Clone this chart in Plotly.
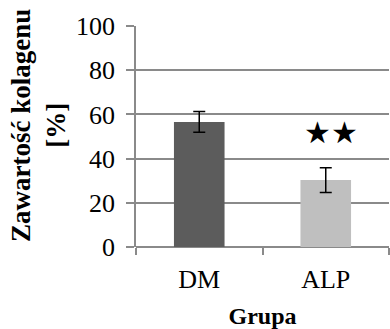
import plotly.graph_objects as go

# Collagen content by group (mean ± SD)
groups = ["DM", "ALP"]
means = [56.6, 30.3]
errors = [4.7, 5.6]
bar_colors = ["#5c5c5c", "#bfbfbf"]
y_ticks = [0, 20, 40, 60, 80, 100]
marker_text = "★★"
marker_y = 52

fig = go.Figure()
fig.add_trace(go.Bar(
    x=groups,
    y=means,
    marker=dict(color=bar_colors, line=dict(width=0)),
    error_y=dict(type="data", array=errors, visible=True,
                 color="black", thickness=1.5, width=6),
    width=0.4,
))

fig.add_annotation(
    x=groups[1], y=marker_y, text=marker_text, showarrow=False,
    xshift=5,
    font=dict(family="DejaVu Sans", size=30, color="black"),
)

serif = "Liberation Serif, Times New Roman, serif"

# Two-line y-axis title drawn as a rotated annotation
fig.add_annotation(
    xref="paper", yref="paper", x=0, y=0.548,
    xanchor="center", yanchor="middle", xshift=-97,
    textangle=-90, showarrow=False,
    text="<b>Zawartość kolagenu<br>[%]</b>",
    font=dict(family=serif, size=27, color="black"),
)

grid = "#8a8a8a"
fig.update_layout(
    width=390, height=329,
    margin=dict(l=136, r=1, t=26, b=82),
    paper_bgcolor="white", plot_bgcolor="white",
    showlegend=False,
    font=dict(family=serif, color="black"),
    xaxis=dict(
        type="category", range=[-0.5, 1.5],
        tickson="boundaries", ticks="outside", ticklen=7,
        tickcolor=grid, tickwidth=1.8,
        showline=False, showgrid=False,
        tickfont=dict(family=serif, size=26),
        ticklabelstandoff=14,
        title=dict(text="<b>Grupa</b>", font=dict(family=serif, size=24), standoff=14),
    ),
    yaxis=dict(
        range=[0, 100], tickvals=y_ticks,
        ticks="outside", ticklen=8, tickcolor=grid, tickwidth=1.8,
        showgrid=True, gridcolor=grid, gridwidth=1.8,
        showline=True, linecolor=grid, linewidth=1.8,
        zeroline=True, zerolinecolor=grid, zerolinewidth=1.8,
        tickfont=dict(family=serif, size=26),
        ticklabelstandoff=6,
    ),
)

fig.write_html("out.html")
